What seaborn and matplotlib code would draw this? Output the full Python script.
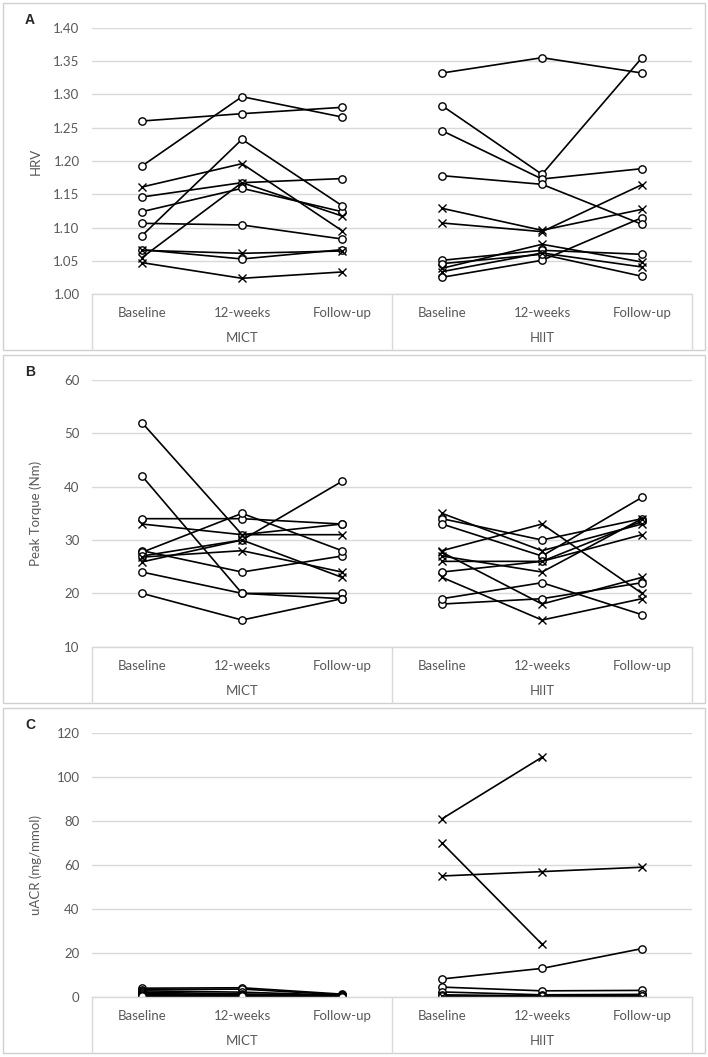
import numpy as np
import pandas as pd
import matplotlib
matplotlib.use("Agg")
import matplotlib.pyplot as plt
from matplotlib.lines import Line2D
from matplotlib.patches import Rectangle
import seaborn as sns

# ---------------- data ----------------
timepoints = ["Baseline", "12-weeks", "Follow-up"]
groups = ["MICT", "HIIT"]
nan = np.nan

# Panel A: HRV
hrv_mict_base = [1.260, 1.1925, 1.161, 1.146, 1.124, 1.1065, 1.088, 1.067, 1.066, 1.055, 1.0475]
hrv_mict_12w = [1.271, 1.2965, 1.196, 1.1675, 1.159, 1.104, 1.2325, 1.053, 1.0615, 1.1675, 1.024]
hrv_mict_fu = [1.2805, 1.266, 1.0955, 1.1736, 1.124, 1.083, 1.133, 1.067, 1.065, 1.1175, 1.0335]
hrv_mict_mark = ["o", "o", "x", "o", "o", "o", "o", "o", "x", "x", "x"]

hrv_hiit_base = [1.332, 1.283, 1.2455, 1.178, 1.129, 1.107, 1.051, 1.046, 1.039, 1.034, 1.0255]
hrv_hiit_12w = [1.355, 1.180, 1.173, 1.165, 1.096, 1.094, 1.066, 1.060, 1.075, 1.062, 1.051]
hrv_hiit_fu = [1.332, 1.355, 1.1885, 1.105, 1.1275, 1.1645, 1.060, 1.027, 1.0485, 1.041, 1.115]
hrv_hiit_mark = ["o", "o", "o", "o", "x", "x", "o", "o", "x", "x", "o"]

# Panel B: Peak torque
torque_mict_base = [52, 42, 34, 33, 28, 27.7, 26.8, 25.9, 27, 24, 20]
torque_mict_12w = [31, 20, 34, 31, 24, 35, 28, 30, 30, 20, 15]
torque_mict_fu = [33, 20, 33, 31, 27, 28, 24, 23, 41, 19, 19]
torque_mict_mark = ["o", "o", "o", "x", "o", "o", "x", "x", "o", "o", "o"]

torque_hiit_base = [35, 34, 33, 28, 27.7, 27, 26, 24, 23, 19, 18]
torque_hiit_12w = [28, 30, 27, 33, 18, 24, 26, 26, 15, 22, 19]
torque_hiit_fu = [33, 34, 38, 20, 23, 34, 31, 33.5, 19, 16, 22]
torque_hiit_mark = ["x", "o", "o", "x", "x", "x", "x", "o", "x", "o", "o"]

# Panel C: uACR
uacr_mict_base = [4.0, 3.3, 2.8, 2.2, 1.6, 1.2, 0.9, 0.6, 0.4, 0.3]
uacr_mict_12w = [4.2, 3.6, 2.2, 1.4, 1.0, 0.8, 0.7, 0.5, 0.4, 0.3]
uacr_mict_fu = [1.3, 1.0, 0.8, 0.7, 0.5, 0.4, 0.3, 0.3, 0.2, 0.2]
uacr_mict_mark = ["o"] * 10

uacr_hiit_base = [81, 70, 55, 8.2, 4.5, 2.3, 1.0, 0.5, 0.3]
uacr_hiit_12w = [109, 24, 57, 13, 2.8, 1.0, 0.5, 0.3, 0.2]
uacr_hiit_fu = [nan, nan, 59, 22, 3.0, 1.2, 0.5, 0.3, 0.2]
uacr_hiit_mark = ["x", "x", "x", "o", "o", "o", "o", "o", "x"]

panel_letters = ["A", "B", "C"]
y_titles = ["HRV", "Peak Torque (Nm)", "uACR (mg/mmol)"]
y_ticks_A = [1.00, 1.05, 1.10, 1.15, 1.20, 1.25, 1.30, 1.35, 1.40]
y_ticks_B = [10, 20, 30, 40, 50, 60]
y_ticks_C = [0, 20, 40, 60, 80, 100, 120]


def build(series_list):
    rows = []
    for gi, (base, w12, fu, marks, tag) in enumerate(series_list):
        for i, (b, w, f, m) in enumerate(zip(base, w12, fu, marks)):
            for j, v in enumerate((b, w, f)):
                if v is None or np.isnan(v):
                    continue
                rows.append(dict(subject=f"{tag}{i}", pos=gi * 3 + j, value=v, marker=m))
    return pd.DataFrame(rows)


dfA = build([(hrv_mict_base, hrv_mict_12w, hrv_mict_fu, hrv_mict_mark, "m"),
             (hrv_hiit_base, hrv_hiit_12w, hrv_hiit_fu, hrv_hiit_mark, "h")])
dfB = build([(torque_mict_base, torque_mict_12w, torque_mict_fu, torque_mict_mark, "m"),
             (torque_hiit_base, torque_hiit_12w, torque_hiit_fu, torque_hiit_mark, "h")])
dfC = build([(uacr_mict_base, uacr_mict_12w, uacr_mict_fu, uacr_mict_mark, "m"),
             (uacr_hiit_base, uacr_hiit_12w, uacr_hiit_fu, uacr_hiit_mark, "h")])

# ---------------- layout ----------------
sns.set_theme(style="white")
plt.rcParams["font.family"] = ["Lato", "DejaVu Sans"]

W, H = 708, 1057
fig = plt.figure(figsize=(W / 100, H / 100), dpi=100)


def fx(px):
    return px / W


def fy(py):
    return 1 - py / H


GRAY_TXT = "#595959"
GRID = "#d9d9d9"
LEFT, RIGHT = 92, 692
FS = 9.5

panels = [
    dict(df=dfA, top=27.7, bottom=294.3, ylim=(1.0, 1.4), ticks=y_ticks_A, fmt="{:.2f}"),
    dict(df=dfB, top=380.0, bottom=646.7, ylim=(10, 60), ticks=y_ticks_B, fmt="{:.0f}"),
    dict(df=dfC, top=733.0, bottom=997.0, ylim=(0, 120), ticks=y_ticks_C, fmt="{:.0f}"),
]

for k, p in enumerate(panels):
    b0, b1 = p["top"] - 25, p["bottom"] + 56
    fig.patches.append(Rectangle((fx(3), fy(b1)), fx(705) - fx(3), fy(b0) - fy(b1),
                                 transform=fig.transFigure, fill=False,
                                 edgecolor="#d0d0d0", lw=1))
    ax = fig.add_axes([fx(LEFT), fy(p["bottom"]), fx(RIGHT) - fx(LEFT),
                       fy(p["top"]) - fy(p["bottom"])])
    ax.set_facecolor("none")
    df = p["df"]
    for mk in ["o", "x"]:
        sub = df[df["marker"] == mk]
        if sub.empty:
            continue
        sns.lineplot(data=sub, x="pos", y="value", units="subject", estimator=None,
                     marker=mk, color="black", lw=1.2, ms=5.3, mfc="white",
                     mec="black", mew=1.0, legend=False, ax=ax)
    ax.set_xlim(-0.5, 5.5)
    ax.set_ylim(*p["ylim"])
    ax.set_yticks(p["ticks"])
    ax.set_yticklabels([p["fmt"].format(t) for t in p["ticks"]], color=GRAY_TXT, fontsize=FS)
    ax.tick_params(axis="y", length=0, pad=9)
    ax.set_xticks([])
    ax.set_xlabel("")
    ax.set_ylabel("")
    ax.yaxis.grid(True, color=GRID, lw=1)
    ax.set_axisbelow(True)
    for s in ["top", "right", "left"]:
        ax.spines[s].set_visible(False)
    ax.spines["bottom"].set_color(GRID)
    ax.spines["bottom"].set_linewidth(1)

    fig.text(fx(36), fy((p["top"] + p["bottom"]) / 2), y_titles[k], rotation=90,
             ha="center", va="center", color=GRAY_TXT, fontsize=FS)
    fig.text(fx(30), fy(p["top"] - 8), panel_letters[k], ha="center", va="center",
             fontsize=10, fontweight="bold", family=["Liberation Sans", "DejaVu Sans"])

    yb = p["bottom"]
    for g in range(2):
        for j, tp in enumerate(timepoints):
            cx = LEFT + 100 * (g * 3 + j + 0.5)
            fig.text(fx(cx), fy(yb + 19), tp, ha="center", va="center",
                     color=GRAY_TXT, fontsize=FS)
        gx = LEFT + 300 * (g + 0.5)
        fig.text(fx(gx), fy(yb + 44), groups[g], ha="center", va="center",
                 color=GRAY_TXT, fontsize=FS)
    for vx in (LEFT, LEFT + 300, RIGHT):
        fig.lines.append(Line2D([fx(vx), fx(vx)], [fy(yb), fy(b1)],
                                transform=fig.transFigure, color=GRID, lw=1))

fig.savefig("out.png", dpi=100, facecolor="white")
